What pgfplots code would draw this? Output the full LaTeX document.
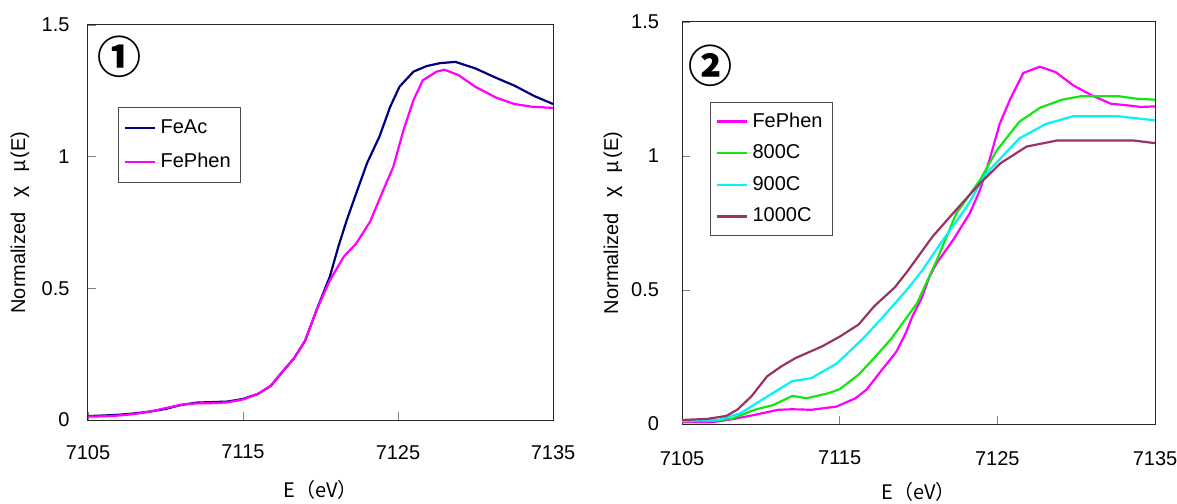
\documentclass[border=0pt]{standalone}
\usepackage{fontspec}
\setmainfont{Liberation Sans}
\newfontfamily\jp{Noto Sans CJK JP}
\usepackage{pgfplots}
\pgfplotsset{compat=1.18}

\definecolor{navyc}{RGB}{0,0,128}
\definecolor{magc}{RGB}{255,0,255}
\definecolor{grnc}{RGB}{20,230,20}
\definecolor{cyanc}{RGB}{0,245,245}
\definecolor{plumc}{RGB}{153,51,102}

\newcommand{\ylab}{Normalized\hspace{0.75em}{\jp χ}\hspace{0.7em}{\jp μ}\hspace{0.1em}(E)}

\pgfplotsset{
  xanes/.style={
    scale only axis,
    xmin=7105, xmax=7135, ymin=0, ymax=1.5,
    xtick={7105,7115,7125,7135}, ytick={0,0.5,1,1.5},
    tick align=inside, xtick pos=bottom, ytick pos=left,
    major tick length=4pt,
    axis line style={black!85, line width=0.5pt},
    /pgf/number format/assume math mode=true,
    /pgf/number format/1000 sep={},
    tick label style={font=\fontsize{10}{12}\selectfont},
    xlabel style={font=\jp\fontsize{10}{12}\selectfont},
    ylabel style={font=\fontsize{10}{12}\selectfont},
    legend style={draw=black!70, line width=0.4pt,
      font=\fontsize{10}{12}\selectfont,
      inner xsep=3pt, nodes={inner sep=2pt}},
    legend cell align=left,
    legend image code/.code={\draw[#1] (0pt,0pt) -- (15pt,0pt);},
    every axis plot/.append style={line width=1.1pt},
  }
}

\begin{document}
\begin{tikzpicture}
\path[use as bounding box] (0,0) rectangle (588.5pt,251.5pt);

% panel 1
\begin{axis}[xanes,
  at={(44pt,41.5pt)}, anchor=south west,
  width=232.5pt, height=197.5pt,
  xticklabel style={yshift=-9pt},
  yticklabel style={xshift=-5.7pt},
  xlabel={E（eV）}, ylabel={\ylab},
  xlabel style={at={(axis description cs:0.5,-0.177)}, anchor=center},
  ylabel style={at={(axis description cs:-0.146,0.5)}, anchor=center},
  legend style={at={(0.0645,0.792)}, anchor=north west,
    inner ysep=4pt, row sep=4.5pt}]
\addplot[navyc] coordinates {
(7105,0.015) (7106,0.017) (7107,0.020) (7108,0.025) (7109,0.032) (7110,0.042)
(7111,0.057) (7112,0.066) (7113,0.068) (7114,0.070) (7115,0.080) (7116,0.100)
(7116.8,0.13) (7117.5,0.18) (7118.3,0.235) (7119,0.30) (7119.75,0.418) (7120.6,0.544)
(7121.15,0.658) (7121.7,0.76) (7122.3,0.86) (7123.0,0.975) (7123.8,1.076) (7124.5,1.19)
(7125.1,1.266) (7126.0,1.323) (7126.85,1.344) (7127.7,1.355) (7128.7,1.36)
(7130,1.335) (7131.3,1.30) (7132.5,1.27) (7133.8,1.23) (7135,1.20)};
\addlegendentry{FeAc}
\addplot[magc] coordinates {
(7105,0.013) (7106,0.014) (7107,0.017) (7108,0.023) (7109,0.032) (7110,0.045)
(7111,0.058) (7112,0.063) (7113,0.064) (7114,0.067) (7115,0.078) (7116,0.10)
(7116.8,0.13) (7117.5,0.18) (7118.3,0.235) (7119,0.30) (7119.75,0.418) (7120.6,0.53)
(7121.5,0.62) (7122.3,0.67) (7123.2,0.753) (7124.05,0.873) (7124.7,0.962) (7125.35,1.10)
(7126.0,1.215) (7126.6,1.29) (7127.5,1.323) (7128.0,1.33) (7128.9,1.31) (7130,1.265)
(7131.3,1.225) (7132.5,1.20) (7133.6,1.19) (7135,1.185)};
\addlegendentry{FePhen}
\node[font=\jp\bfseries\fontsize{22}{22}\selectfont] at (axis description cs:0.0685,0.919) {①};
\end{axis}

% panel 2
\begin{axis}[xanes,
  at={(341pt,39.5pt)}, anchor=south west,
  width=236.5pt, height=201pt,
  xticklabel style={yshift=-10pt},
  yticklabel style={xshift=-8pt},
  xlabel={E（eV）}, ylabel={\ylab},
  xlabel style={at={(axis description cs:0.5,-0.169)}, anchor=center},
  ylabel style={at={(axis description cs:-0.146,0.5)}, anchor=center},
  legend style={at={(0.059,0.80)}, anchor=north west,
    inner ysep=3pt, row sep=3.3pt}]
\addplot[magc] coordinates {
(7105,0.006) (7106.8,0.006) (7108.2,0.018) (7109.6,0.034) (7111.1,0.053) (7112,0.055)
(7113.2,0.053) (7114.8,0.065) (7116,0.096) (7116.7,0.128) (7117.6,0.196) (7118.6,0.27)
(7119.2,0.34) (7119.6,0.40) (7120.2,0.47) (7120.7,0.55) (7121.15,0.60) (7122.2,0.687)
(7123.25,0.786) (7123.9,0.873) (7124.5,0.985) (7125.15,1.12) (7125.8,1.21) (7126.65,1.31)
(7127.7,1.333) (7128.7,1.313) (7129.8,1.264) (7131.0,1.226) (7132.2,1.195) (7133.1,1.19)
(7134.1,1.183) (7135,1.185)};
\addlegendentry{FePhen}
\addplot[grnc] coordinates {
(7105,0.010) (7107,0.012) (7108.2,0.020) (7109.6,0.053) (7110.8,0.071) (7112.0,0.105)
(7112.9,0.096) (7114.3,0.115) (7115.0,0.13) (7116.2,0.184) (7117.4,0.26) (7118.3,0.32)
(7119.9,0.45) (7121.15,0.61) (7122.4,0.786) (7123.9,0.91) (7124.95,1.02) (7126.4,1.128)
(7127.7,1.18) (7129.1,1.21) (7130.3,1.223) (7132.7,1.223) (7133.8,1.214) (7135,1.21)};
\addlegendentry{800C}
\addplot[cyanc] coordinates {
(7105,0.012) (7107.3,0.015) (7108.7,0.04) (7109.9,0.084) (7111.1,0.128) (7112.0,0.16)
(7113.2,0.171) (7114.8,0.225) (7116.5,0.32) (7117.6,0.39) (7119.25,0.50) (7120.2,0.57)
(7121.4,0.674) (7123.05,0.81) (7124.3,0.935) (7126.4,1.066) (7128.1,1.12) (7129.8,1.148)
(7132.7,1.148) (7135,1.133)};
\addlegendentry{900C}
\addplot[plumc] coordinates {
(7105,0.015) (7106.6,0.019) (7107.8,0.03) (7108.5,0.053) (7109.4,0.103) (7110.4,0.178)
(7111.3,0.215) (7112.2,0.246) (7113.9,0.29) (7115.0,0.326) (7116.2,0.371) (7117.2,0.44)
(7118.5,0.51) (7119.3,0.57) (7120.9,0.70) (7122.4,0.80) (7123.9,0.898) (7125.2,0.973)
(7126.85,1.035) (7128.8,1.058) (7133.6,1.058) (7135,1.048)};
\addlegendentry{1000C}
\node[font=\jp\bfseries\fontsize{22}{22}\selectfont] at (axis description cs:0.061,0.892) {②};
\end{axis}
\end{tikzpicture}
\end{document}
